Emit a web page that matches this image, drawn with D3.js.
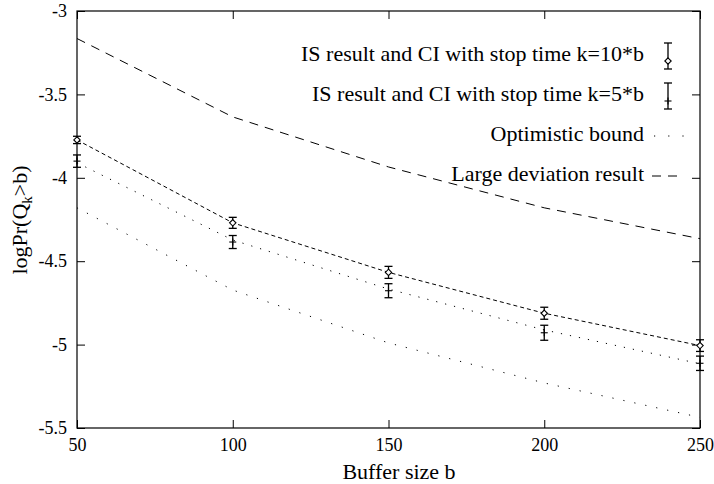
<!DOCTYPE html>
<html lang="en">
<head>
    <meta charset="UTF-8">
    <title>IS result vs buffer size</title>
    <script src="https://d3js.org/d3.v7.min.js"></script>
    <style>
        body { margin: 0; background: #fff; }
        svg, svg text { font-family: "Liberation Serif", "DejaVu Serif", serif; }
        .tick text { font-size: 18px; fill: #000; }
        .tick line { stroke: #000; }
        .line { fill: none; stroke: #000; stroke-width: 1px; }
    </style>
</head>
<body>
    <svg width="714" height="484"></svg>

    <script>
        // data
        const bufferSizes = [50, 100, 150, 200, 250];
        const isK10 = [-3.773, -4.270, -4.567, -4.812, -5.006];
        const isK10Err = [0.022, 0.033, 0.036, 0.036, 0.035];
        const isK5 = [-3.900, -4.385, -4.677, -4.929, -5.112];
        const isK5Err = [0.037, 0.039, 0.042, 0.045, 0.043];
        const boundUpper = [-3.91, -4.373, -4.667, -4.912, -5.115];
        const boundLower = [-4.18, -4.673, -4.99, -5.23, -5.436];
        const largeDev = [-3.165, -3.635, -3.935, -4.18, -4.365];

        const xTicks = [50, 100, 150, 200, 250];
        const yTicks = [-3, -3.5, -4, -4.5, -5, -5.5];

        const legendLabels = [
            "IS result and CI with stop time k=10*b",
            "IS result and CI with stop time k=5*b",
            "Optimistic bound",
            "Large deviation result"
        ];

        const plot = { left: 77, right: 700, top: 11, bottom: 428 };

        const svg = d3.select("svg");

        const x = d3.scaleLinear().domain([50, 250]).range([plot.left, plot.right]);
        const y = d3.scaleLinear().domain([-5.5, -3]).range([plot.bottom, plot.top]);

        // axes, gnuplot style: ticks inward on all four sides
        svg.append("g")
            .attr("transform", `translate(0,${plot.bottom})`)
            .call(d3.axisBottom(x).tickValues(xTicks).tickSize(-8).tickPadding(10).tickFormat(d3.format("d")))
            .call(g => g.select(".domain").remove());

        svg.append("g")
            .attr("transform", `translate(${plot.left},0)`)
            .call(d3.axisLeft(y).tickValues(yTicks).tickSize(-8).tickPadding(10).tickFormat(d => String(d)))
            .call(g => g.select(".domain").remove());

        svg.append("g")
            .attr("transform", `translate(0,${plot.top})`)
            .call(d3.axisTop(x).tickValues(xTicks).tickSize(-8).tickFormat(""))
            .call(g => g.select(".domain").remove());

        svg.append("g")
            .attr("transform", `translate(${plot.right},0)`)
            .call(d3.axisRight(y).tickValues(yTicks).tickSize(-8).tickFormat(""))
            .call(g => g.select(".domain").remove());

        svg.selectAll("g").attr("font-family", null).attr("font-size", null);
        svg.selectAll(".tick text")
            .style("font-family", "'Liberation Serif', serif")
            .style("font-size", "18px");

        svg.append("rect")
            .attr("x", plot.left).attr("y", plot.top)
            .attr("width", plot.right - plot.left).attr("height", plot.bottom - plot.top)
            .attr("fill", "none").attr("stroke", "#000").attr("stroke-width", 1.2);

        // axis titles
        svg.append("text")
            .attr("x", 399).attr("y", 479)
            .attr("text-anchor", "middle")
            .style("font-size", "22px")
            .text("Buffer size b");

        const yl = svg.append("text")
            .attr("transform", "translate(27,220) rotate(-90)")
            .attr("text-anchor", "middle")
            .style("font-size", "22px");
        yl.append("tspan").text("logPr(Q");
        yl.append("tspan").attr("dy", 5).style("font-size", "15px").text("k");
        yl.append("tspan").attr("dy", -5).text(">b)");

        // lines
        const line = d3.line().x(d => x(d[0])).y(d => y(d[1]));
        const pairs = arr => bufferSizes.map((b, i) => [b, arr[i]]);

        svg.append("path").datum(pairs(largeDev)).attr("class", "line")
            .attr("stroke-dasharray", "9,7").attr("d", line);
        svg.append("path").datum(pairs(isK10)).attr("class", "line")
            .attr("stroke-dasharray", "4,3").attr("d", line);
        svg.append("path").datum(pairs(boundUpper)).attr("class", "line")
            .attr("stroke-dasharray", "1.2,8").attr("d", line);
        svg.append("path").datum(pairs(boundLower)).attr("class", "line")
            .attr("stroke-dasharray", "1.2,10").attr("d", line);

        // error bars
        function drawMarker(g, marker, cx, cy) {
            if (marker === "diamond") {
                g.append("path")
                    .attr("transform", `translate(${cx},${cy})`)
                    .attr("d", d3.symbol(d3.symbolDiamond2, 26)())
                    .attr("fill", "#fff")
                    .attr("stroke-width", 1.1);
            } else {
                g.append("line").attr("x1", cx - 3.5).attr("x2", cx + 3.5).attr("y1", cy).attr("y2", cy).attr("stroke-width", 1.1);
                g.append("line").attr("x1", cx).attr("x2", cx).attr("y1", cy - 3.5).attr("y2", cy + 3.5).attr("stroke-width", 1.1);
            }
        }

        function errorBar(g, cx, lo, hi) {
            g.append("line").attr("x1", cx).attr("x2", cx).attr("y1", lo).attr("y2", hi).attr("stroke-width", 1.3);
            g.append("line").attr("x1", cx - 4).attr("x2", cx + 4).attr("y1", lo).attr("y2", lo).attr("stroke-width", 1.3);
            g.append("line").attr("x1", cx - 4).attr("x2", cx + 4).attr("y1", hi).attr("y2", hi).attr("stroke-width", 1.3);
        }

        function errorBars(vals, errs, marker) {
            const g = svg.append("g").attr("stroke", "#000").attr("fill", "none");
            bufferSizes.forEach((b, i) => {
                const cx = x(b);
                errorBar(g, cx, y(vals[i] - errs[i]), y(vals[i] + errs[i]));
                drawMarker(g, marker, cx, y(vals[i]));
            });
        }

        errorBars(isK10, isK10Err, "diamond");
        errorBars(isK5, isK5Err, "plus");

        // legend
        const legendY = [61, 101, 141, 181];
        const legend = svg.append("g");
        legendLabels.forEach((t, i) => {
            legend.append("text")
                .attr("x", 644).attr("y", legendY[i])
                .attr("text-anchor", "end")
                .style("font-size", "22px")
                .text(t);
        });

        [0, 1].forEach(i => {
            const g = legend.append("g").attr("stroke", "#000").attr("fill", "none");
            errorBar(g, 668, legendY[i] - 18, legendY[i] + 8);
            drawMarker(g, i === 0 ? "diamond" : "plus", 668, legendY[i]);
        });

        legend.append("line").attr("class", "line")
            .attr("x1", 654).attr("x2", 686).attr("y1", legendY[2] - 5).attr("y2", legendY[2] - 5)
            .attr("stroke-dasharray", "1.2,13");
        legend.append("line").attr("class", "line")
            .attr("x1", 652).attr("x2", 684).attr("y1", legendY[3] - 5).attr("y2", legendY[3] - 5)
            .attr("stroke-dasharray", "9,7");
    </script>
</body>
</html>
